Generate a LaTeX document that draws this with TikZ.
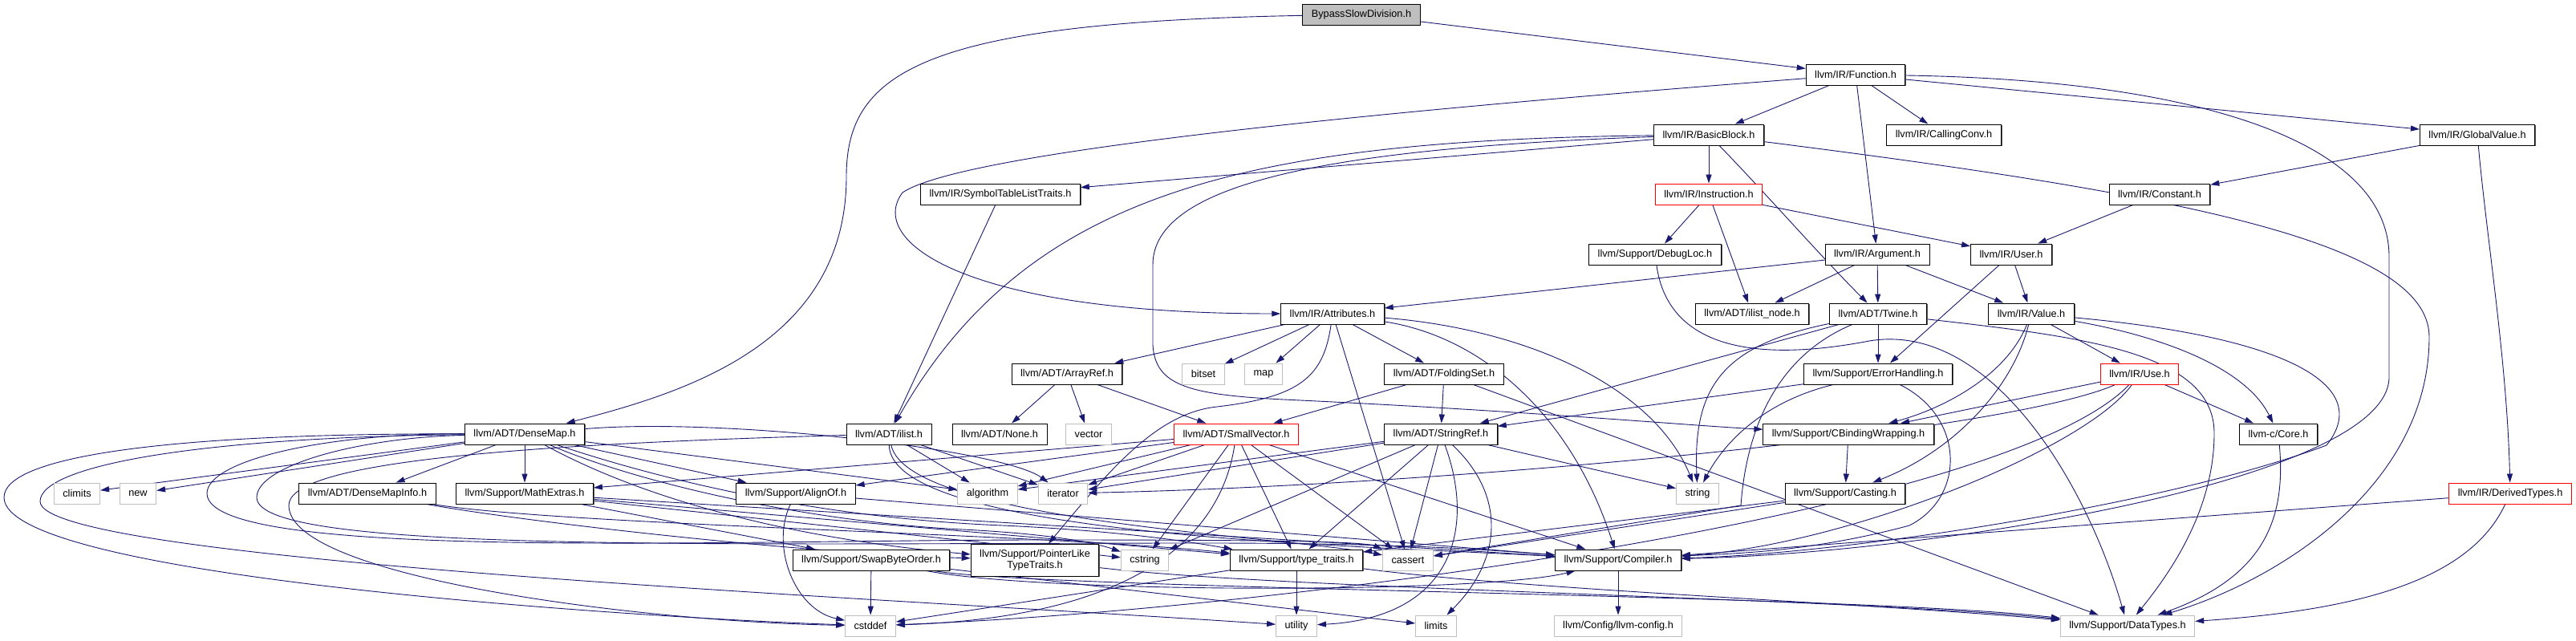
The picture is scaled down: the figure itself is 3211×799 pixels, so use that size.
\documentclass[tikz,border=0pt]{standalone}
\usepackage{fontspec}
\setmainfont{Liberation Sans}
\usetikzlibrary{arrows.meta,shadows,backgrounds}
\definecolor{edgeblue}{RGB}{25,25,112}
\definecolor{sysgray}{RGB}{191,191,191}
\newcommand{\hdrfont}{\fontsize{12.7}{14.5}\selectfont}

\begin{document}
\begin{tikzpicture}[x=1pt, y=-1pt,
    box/.style={rectangle, draw=black, fill=white, line width=0.9pt,
                inner xsep=11pt, inner ysep=0pt, minimum height=26pt, font=\hdrfont},
    hdr/.style={box, drop shadow={shadow xshift=1.3pt, shadow yshift=-1.3pt,
                fill=black!65, opacity=1}},
    sys/.style={box, draw=sysgray},
    trunc/.style={box, draw=red},
    root/.style={hdr, fill=sysgray},
    incl/.style={-{Triangle[length=11pt, width=7pt]}, draw=edgeblue, line width=0.9pt}
  ]
    \useasboundingbox (0,0) rectangle (3211,799);

    \node[root]  (bsd)     at (1697,18)  {BypassSlowDivision.h};
    \node[hdr]   (fn)      at (2313,93)  {llvm/IR/Function.h};
    \node[hdr]   (bb)      at (2130,168) {llvm/IR/BasicBlock.h};
    \node[hdr]   (cc)      at (2423,168) {llvm/IR/CallingConv.h};
    \node[hdr]   (gv)      at (3088,168) {llvm/IR/GlobalValue.h};
    \node[hdr]   (stlt)    at (1247,242) {llvm/IR/SymbolTableListTraits.h};
    \node[trunc] (ins)     at (2130,242) {llvm/IR/Instruction.h};
    \node[hdr]   (cst)     at (2692,242) {llvm/IR/Constant.h};
    \node[hdr]   (dloc)    at (2063,317) {llvm/Support/DebugLoc.h};
    \node[hdr]   (arg)     at (2340,317) {llvm/IR/Argument.h};
    \node[hdr]   (usr)     at (2507,317) {llvm/IR/User.h};
    \node[hdr]   (attr)    at (1661,391) {llvm/IR/Attributes.h};
    \node[hdr]   (ilnode)  at (2184,391) {llvm/ADT/ilist\_node.h};
    \node[hdr]   (twine)   at (2341,391) {llvm/ADT/Twine.h};
    \node[hdr]   (val)     at (2532,391) {llvm/IR/Value.h};
    \node[hdr]   (aref)    at (1330,466) {llvm/ADT/ArrayRef.h};
    \node[sys]   (bitset)  at (1500,466) {bitset};
    \node[sys]   (map)     at (1575,466) {map};
    \node[hdr]   (fset)    at (1800,466) {llvm/ADT/FoldingSet.h};
    \node[hdr]   (errh)    at (2341,466) {llvm/Support/ErrorHandling.h};
    \node[trunc] (use)     at (2667,466) {llvm/IR/Use.h};
    \node[hdr]   (dmap)    at (654,541)  {llvm/ADT/DenseMap.h};
    \node[hdr]   (ilist)   at (1108,541) {llvm/ADT/ilist.h};
    \node[hdr]   (none)    at (1246,541) {llvm/ADT/None.h};
    \node[sys]   (vector)  at (1357,541) {vector};
    \node[trunc] (svec)    at (1541,541) {llvm/ADT/SmallVector.h};
    \node[hdr]   (sref)    at (1796,541) {llvm/ADT/StringRef.h};
    \node[hdr]   (cbw)     at (2304,541) {llvm/Support/CBindingWrapping.h};
    \node[hdr]   (core)    at (2840,541) {llvm-c/Core.h};
    \node[sys]   (climits) at (96,615)   {climits};
    \node[sys]   (new)     at (172,615)  {new};
    \node[hdr]   (dminfo)  at (458,615)  {llvm/ADT/DenseMapInfo.h};
    \node[hdr]   (mext)    at (654,615)  {llvm/Support/MathExtras.h};
    \node[hdr]   (alignof) at (992,615)  {llvm/Support/AlignOf.h};
    \node[sys]   (algo)    at (1231,615) {algorithm};
    \node[sys]   (iter)    at (1325,615) {iterator};
    \node[sys]   (string)  at (2116,615) {string};
    \node[hdr]   (cast)    at (2300,615) {llvm/Support/Casting.h};
    \node[trunc] (derived) at (3129,615) {llvm/IR/DerivedTypes.h};
    \node[hdr]   (sbo)     at (1086,698) {llvm/Support/SwapByteOrder.h};
    \node[hdr, align=center, minimum height=40pt] (pltt) at (1290,698) {llvm/Support/PointerLike\\TypeTraits.h};
    \node[sys]   (cstring) at (1427,698) {cstring};
    \node[hdr]   (ttraits) at (1616,698) {llvm/Support/type\_traits.h};
    \node[sys]   (cassert) at (1755,698) {cassert};
    \node[hdr]   (comp)    at (2017,698) {llvm/Support/Compiler.h};
    \node[sys]   (cstddef) at (1085,780) {cstddef};
    \node[sys]   (utility) at (1616,780) {utility};
    \node[sys]   (limits)  at (1790,780) {limits};
    \node[sys]   (lconf)   at (2017,780) {llvm/Config/llvm-config.h};
    \node[sys]   (datatypes) at (2652,780) {llvm/Support/DataTypes.h};

    \begin{scope}[on background layer]
    \fill[white] (0,0) rectangle (3211,799);
    \draw[incl] (bsd) -- (fn);
    \draw[incl] (bsd) .. controls (1150,28) and (1055,90) .. (1055,220) .. controls (1055,430) and (850,490) .. (dmap);
    \draw[incl] (fn) -- (bb);
    \draw[incl] (fn) -- (cc);
    \draw[incl] (fn) -- (gv);
    \draw[incl] (fn) -- (arg);
    \draw[incl] (fn) .. controls (1700,140) and (1200,190) .. (1125,240) .. controls (1080,300) and (1200,391) .. (attr);
    \draw[incl] (fn) .. controls (2750,100) and (2978,180) .. (2978,320) -- (2978,470) .. controls (2978,600) and (2400,690) .. (comp);
    \draw[incl] (bb) -- (stlt);
    \draw[incl] (bb) -- (ins);
    \draw[incl] (bb) .. controls (2200,240) and (2270,320) .. (twine);
    \draw[incl] (bb) .. controls (1550,175) and (1280,240) .. (ilist);
    \draw[incl] (bb) .. controls (1650,185) and (1437,230) .. (1437,330) -- (1437,430) .. controls (1440,480) and (1480,492) .. (1600,498) .. controls (1900,512) and (2100,530) .. (cbw);
    \draw[incl] (bb) .. controls (2700,240) and (3028,300) .. (3028,420) .. controls (3028,600) and (2850,720) .. (datatypes);
    \draw[incl] (gv) -- (cst);
    \draw[incl] (gv) .. controls (3100,300) and (3125,450) .. (derived);
    \draw[incl] (stlt) -- (ilist);
    \draw[incl] (ins) -- (dloc);
    \draw[incl] (ins) -- (ilnode);
    \draw[incl] (ins) -- (usr);
    \draw[incl] (cst) -- (usr);
    \draw[incl] (dloc) .. controls (2080,440) and (2200,450) .. (2330,425) .. controls (2480,400) and (2600,600) .. (datatypes);
    \draw[incl] (arg) -- (attr);
    \draw[incl] (arg) -- (ilnode);
    \draw[incl] (arg) -- (twine);
    \draw[incl] (arg) -- (val);
    \draw[incl] (usr) -- (val);
    \draw[incl] (usr) -- (errh);
    \draw[incl] (attr) -- (aref);
    \draw[incl] (attr) -- (bitset);
    \draw[incl] (attr) -- (map);
    \draw[incl] (attr) -- (fset);
    \draw[incl] (attr) -- (cassert);
    \draw[incl] (attr) .. controls (1900,410) and (2060,480) .. (string);
    \draw[incl] (attr) .. controls (1850,420) and (1960,520) .. (comp);
    \draw[incl] (attr) .. controls (1650,470) and (1620,495) .. (1517,507) .. controls (1440,515) and (1380,590) .. (pltt);
    \draw[incl] (twine) -- (errh);
    \draw[incl] (twine) -- (sref);
    \draw[incl] (twine) .. controls (2150,430) and (2110,480) .. (string);
    \draw[incl] (twine) .. controls (2200,450) and (2175,560) .. (2170,630) -- (cassert);
    \draw[incl] (twine) .. controls (2600,420) and (2760,440) .. (2760,540) .. controls (2760,640) and (2700,720) .. (datatypes);
    \draw[incl] (val) -- (use);
    \draw[incl] (val) .. controls (2500,470) and (2420,510) .. (cbw);
    \draw[incl] (val) .. controls (2510,480) and (2440,560) .. (cast);
    \draw[incl] (val) .. controls (2700,420) and (2800,460) .. (core);
    \draw[incl] (val) .. controls (2850,420) and (2960,480) .. (2900,555) .. controls (2700,630) and (2300,690) .. (comp);
    \draw[incl] (aref) -- (none);
    \draw[incl] (aref) -- (vector);
    \draw[incl] (aref) -- (svec);
    \draw[incl] (fset) -- (svec);
    \draw[incl] (fset) -- (sref);
    \draw[incl] (fset) -- (datatypes);
    \draw[incl] (errh) -- (sref);
    \draw[incl] (errh) .. controls (2200,500) and (2150,550) .. (string);
    \draw[incl] (errh) .. controls (2450,520) and (2450,620) .. (2380,655) .. controls (2250,690) and (2150,690) .. (comp);
    \draw[incl] (use) -- (cbw);
    \draw[incl] (use) -- (core);
    \draw[incl] (use) .. controls (2500,540) and (1800,605) .. (iter);
    \draw[incl] (use) .. controls (2600,560) and (2300,680) .. (comp);
    \draw[incl] (use) .. controls (2500,640) and (1600,760) .. (cstddef);
    \draw[incl] (dmap) -- (climits);
    \draw[incl] (dmap) -- (new);
    \draw[incl] (dmap) -- (dminfo);
    \draw[incl] (dmap) -- (mext);
    \draw[incl] (dmap) -- (alignof);
    \draw[incl] (dmap) -- (algo);
    \draw[incl] (dmap) .. controls (900,520) and (1250,560) .. (iter);
    \draw[incl] (dmap) .. controls (780,610) and (950,668) .. (pltt);
    \draw[incl] (dmap) .. controls (790,600) and (1000,650) .. (1200,660) .. controls (1300,665) and (1360,675) .. (cstring);
    \draw[incl] (dmap) .. controls (800,590) and (1000,645) .. (1250,655) .. controls (1400,662) and (1480,675) .. (ttraits);
    \draw[incl] (dmap) .. controls (400,540) and (258,575) .. (258,615) .. controls (258,700) and (900,673) .. (1300,673) .. controls (1600,673) and (1700,675) .. (cassert);
    \draw[incl] (dmap) .. controls (450,545) and (320,580) .. (320,620) .. controls (320,690) and (900,677) .. (1500,677) .. controls (1750,677) and (1850,685) .. (comp);
    \draw[incl] (dmap) .. controls (200,540) and (5,570) .. (5,620) .. controls (5,720) and (800,770) .. (cstddef);
    \draw[incl] (dmap) .. controls (250,545) and (50,580) .. (50,625) .. controls (50,700) and (1100,745) .. (utility);
    \draw[incl] (ilist) -- (algo);
    \draw[incl] (ilist) -- (iter);
    \draw[incl] (ilist) .. controls (1130,650) and (1600,668) .. (cassert);
    \draw[incl] (ilist) .. controls (1110,670) and (1700,680) .. (comp);
    \draw[incl] (ilist) .. controls (600,555) and (360,580) .. (360,630) .. controls (360,720) and (800,775) .. (cstddef);
    \draw[incl] (svec) -- (alignof);
    \draw[incl] (svec) -- (mext);
    \draw[incl] (svec) -- (algo);
    \draw[incl] (svec) -- (iter);
    \draw[incl] (svec) -- (cstring);
    \draw[incl] (svec) -- (ttraits);
    \draw[incl] (svec) -- (cassert);
    \draw[incl] (svec) -- (comp);
    \draw[incl] (svec) .. controls (1520,680) and (1400,770) .. (cstddef);
    \draw[incl] (sref) -- (algo);
    \draw[incl] (sref) -- (iter);
    \draw[incl] (sref) -- (cstring);
    \draw[incl] (sref) -- (ttraits);
    \draw[incl] (sref) -- (cassert);
    \draw[incl] (sref) -- (string);
    \draw[incl] (sref) .. controls (1880,620) and (1870,700) .. (limits);
    \draw[incl] (sref) .. controls (1840,660) and (1810,770) .. (utility);
    \draw[incl] (cbw) -- (cast);
    \draw[incl] (core) .. controls (2850,650) and (2820,720) .. (datatypes);
    \draw[incl] (mext) -- (sbo);
    \draw[incl] (mext) -- (cstring);
    \draw[incl] (mext) -- (ttraits);
    \draw[incl] (mext) -- (comp);
    \draw[incl] (alignof) .. controls (960,680) and (990,760) .. (cstddef);
    \draw[incl] (alignof) -- (comp);
    \draw[incl] (dminfo) .. controls (650,650) and (1000,690) .. (pltt);
    \draw[incl] (dminfo) .. controls (700,655) and (1300,665) .. (ttraits);
    \draw[incl] (cast) -- (cassert);
    \draw[incl] (cast) -- (ttraits);
    \draw[incl] (derived) -- (comp);
    \draw[incl] (derived) .. controls (3080,720) and (2950,760) .. (datatypes);
    \draw[incl] (sbo) -- (cstddef);
    \draw[incl] (sbo) -- (limits);
    \draw[incl] (sbo) .. controls (1300,735) and (2300,740) .. (datatypes);
    \draw[incl] (sbo) .. controls (1300,740) and (1850,740) .. (comp);
    \draw[incl] (pltt) .. controls (1600,735) and (2300,745) .. (datatypes);
    \draw[incl] (ttraits) -- (utility);
    \draw[incl] (ttraits) -- (cstddef);
    \draw[incl] (ttraits) .. controls (1900,735) and (2300,750) .. (datatypes);
    \draw[incl] (comp) -- (lconf);
    \end{scope}
  \end{tikzpicture}
\end{document}
